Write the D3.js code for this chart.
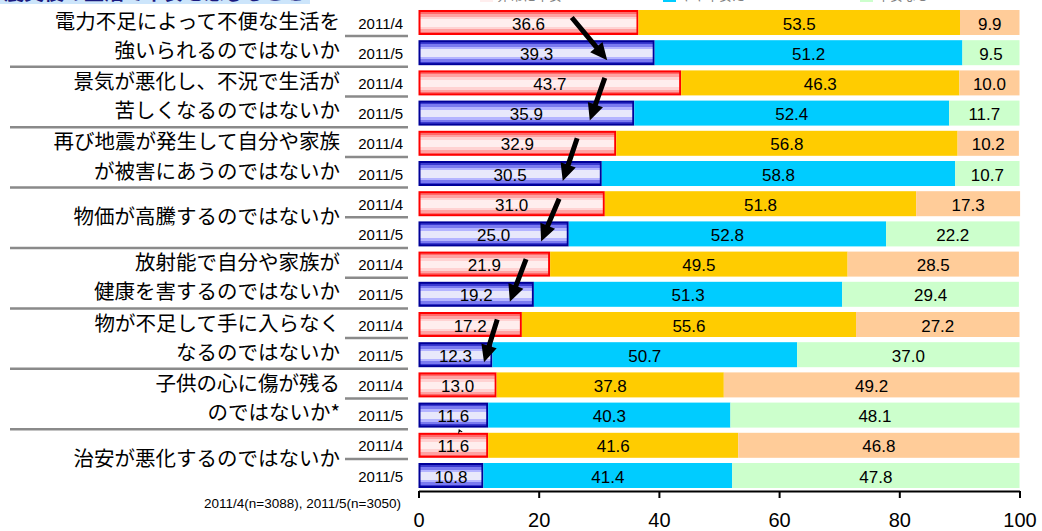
<!DOCTYPE html>
<html>
<head>
<meta charset="utf-8">
<script src="https://cdn.jsdelivr.net/npm/d3@7"></script>
<style>
  body { margin: 0; background: #fff; }
  svg { display: block; }
  .cat { font-family: "Noto Sans CJK JP", sans-serif; font-size: 20.5px; fill: #000; }
  .date, .val, .note, .axis text { font-family: "Liberation Sans", Arial, sans-serif; fill: #000; }
</style>
</head>
<body>
<div id="chart"></div>
<script>
// survey items, two text lines each (second line empty for one-line items)
const items = [
  ['電力不足によって不便な生活を', '強いられるのではないか'],
  ['景気が悪化し、不況で生活が', '苦しくなるのではないか'],
  ['再び地震が発生して自分や家族', 'が被害にあうのではないか'],
  ['物価が高騰するのではないか', ''],
  ['放射能で自分や家族が', '健康を害するのではないか'],
  ['物が不足して手に入らなく', 'なるのではないか'],
  ['子供の心に傷が残る', 'のではないか*'],
  ['治安が悪化するのではないか', '']
];
const periods = ['2011/4', '2011/5'];

// 2011/4 shares (%)
const aprA = [36.6, 43.7, 32.9, 31.0, 21.9, 17.2, 13.0, 11.6];
const aprB = [53.5, 46.3, 56.8, 51.8, 49.5, 55.6, 37.8, 41.6];
const aprC = [9.9, 10.0, 10.2, 17.3, 28.5, 27.2, 49.2, 46.8];
// 2011/5 shares (%)
const mayA = [39.3, 35.9, 30.5, 25.0, 19.2, 12.3, 11.6, 10.8];
const mayB = [51.2, 52.4, 58.8, 52.8, 51.3, 50.7, 40.3, 41.4];
const mayC = [9.5, 11.7, 10.7, 22.2, 29.4, 37.0, 48.1, 47.8];

const ticks = [0, 20, 40, 60, 80, 100];
const note = '2011/4(n=3088), 2011/5(n=3050)';

// arrow annotations (tail, head), in % units
const arrowTail = [25.5, 31.0, 26.4, 23.4, 17.9, 13.1];
const arrowHead = [31.4, 28.5, 24.0, 20.4, 15.2, 10.9];

const width = 1042, height = 531;

const svg = d3.select('#chart').append('svg')
  .attr('width', width)
  .attr('height', height);

const defs = svg.append('defs');

// striped fills for the first segment
function stripes(id, cols) {
  let g = defs.append('linearGradient').attr('id', id)
    .attr('x1', 0).attr('y1', 0).attr('x2', 0).attr('y2', 1);
  let edges = [0, 0.12, 0.24, 0.36, 0.68, 0.79, 0.9, 1];
  cols.forEach((c, i) => {
    g.append('stop').attr('offset', edges[i]).attr('stop-color', c);
    g.append('stop').attr('offset', edges[i + 1]).attr('stop-color', c);
  });
}
stripes('redfill', ['#ff6a6a', '#ffa2a2', '#ffd2d2', '#ffeeee', '#ffd2d2', '#ffa2a2', '#ff6a6a']);
stripes('bluefill', ['#3a3ad0', '#7a7af0', '#b4b4ff', '#e8e8fb', '#b4b4ff', '#7a7af0', '#3a3ad0']);

const x = d3.scaleLinear().domain([0, 100]).range([418.5, 1019.5]);
const y = d3.scaleBand().domain(d3.range(items.length * 2))
  .range([7.4, 490.6]).paddingInner(0.172).paddingOuter(0.086);
const bw = y.bandwidth();

// cut-off heading and legend at the very top
svg.append('rect').attr('x', 0).attr('y', -20).attr('width', 310).attr('height', 24)
  .attr('fill', '#cce5fb');
svg.append('text').attr('x', 4).attr('y', 0)
  .style('font-family', '"Noto Sans CJK JP", sans-serif').style('font-size', '20px')
  .style('font-weight', 'bold').attr('fill', '#1a1a80')
  .text('震災後の生活で不安を感じること');

const legendCols = ['#ffeeee', '#00ccff', '#ccffcc'];
const legendText = ['非常に不安', 'やや不安だ', '不安なし'];
const legendX = [480, 663, 860];
legendText.forEach((t, i) => {
  svg.append('rect').attr('x', legendX[i]).attr('y', -10).attr('width', 13).attr('height', 12)
    .attr('fill', legendCols[i]);
  svg.append('text').attr('x', legendX[i] + 17).attr('y', -0.5)
    .style('font-family', '"Noto Sans CJK JP", sans-serif').style('font-size', '13px')
    .attr('fill', '#808080').text(t);
});

// rows
const rows = [];
items.forEach((it, g) => {
  rows.push({ g: g, p: 0, vals: [aprA[g], aprB[g], aprC[g]] });
  rows.push({ g: g, p: 1, vals: [mayA[g], mayB[g], mayC[g]] });
});

const fills = [
  ['url(#redfill)', '#ffcc00', '#ffcc99'],
  ['url(#bluefill)', '#00ccff', '#ccffcc']
];
const strokes = ['#ff0000', '#000099'];

rows.forEach((r, i) => {
  let top = y(i);
  let acc = 0;
  r.vals.forEach((v, k) => {
    let x0 = x(acc), x1 = x(acc + v);
    if (k === 0) {
      svg.append('rect')
        .attr('x', x0 + 1).attr('y', top + 1)
        .attr('width', x1 - x0 - 2).attr('height', bw - 2)
        .attr('fill', fills[r.p][k])
        .attr('stroke', strokes[r.p]).attr('stroke-width', 2);
    } else {
      svg.append('rect')
        .attr('x', x0).attr('y', top)
        .attr('width', x1 - x0).attr('height', bw)
        .attr('fill', fills[r.p][k]);
    }
    svg.append('text').attr('class', 'val')
      .attr('x', (x0 + x1) / 2).attr('y', top + bw / 2 + 7)
      .attr('text-anchor', 'middle').style('font-size', '17px')
      .text(v.toFixed(1));
    acc += v;
  });

  svg.append('text').attr('class', 'date')
    .attr('x', 403).attr('y', top + bw / 2 + 6)
    .attr('text-anchor', 'end').style('font-size', '15px')
    .text(periods[r.p]);
});

// separators and item labels
const sep = svg.append('g').attr('stroke', '#8a8a8a').attr('stroke-width', 2.5);
items.forEach((it, g) => {
  let topA = y(2 * g), topB = y(2 * g + 1);
  let mid = (topA + bw + topB) / 2 - 1.5;
  sep.append('line').attr('x1', 345).attr('x2', 408).attr('y1', mid).attr('y2', mid);
  if (g < items.length - 1) {
    let next = y(2 * g + 2);
    let gm = (topB + bw + next) / 2 - 1;
    sep.append('line').attr('x1', 10).attr('x2', 408).attr('y1', gm).attr('y2', gm);
  }
  if (it[1]) {
    svg.append('text').attr('class', 'cat').attr('x', 340).attr('y', topA + bw / 2 + 6)
      .attr('text-anchor', 'end').text(it[0]);
    svg.append('text').attr('class', 'cat').attr('x', 340).attr('y', topB + bw / 2 + 5)
      .attr('text-anchor', 'end').text(it[1]);
  } else {
    svg.append('text').attr('class', 'cat').attr('x', 340).attr('y', mid + 7)
      .attr('text-anchor', 'end').text(it[0]);
  }
});

// arrows from 2011/4 to 2011/5
function arrow(x1, y1, x2, y2, shaft, hw, hl) {
  let dx = x2 - x1, dy = y2 - y1, len = Math.hypot(dx, dy);
  let ux = dx / len, uy = dy / len, nx = -uy, ny = ux;
  let bx = x2 - ux * hl, by = y2 - uy * hl;
  let pts = [
    [x1 + nx * shaft / 2, y1 + ny * shaft / 2],
    [bx + nx * shaft / 2, by + ny * shaft / 2],
    [bx + nx * hw / 2, by + ny * hw / 2],
    [x2, y2],
    [bx - nx * hw / 2, by - ny * hw / 2],
    [bx - nx * shaft / 2, by - ny * shaft / 2],
    [x1 - nx * shaft / 2, y1 - ny * shaft / 2]
  ];
  svg.append('path').attr('d', 'M' + pts.map(p => p.join(',')).join('L') + 'Z')
    .attr('fill', '#000');
}
arrowTail.forEach((t, g) => {
  arrow(x(t), y(2 * g) + bw * 0.3, x(arrowHead[g]), y(2 * g + 1) + bw * 0.8, 5, 16, 17);
});
// tiny arrow tip peeking out between the last groups
arrow(x(6.9), y(14) - 1, x(6.7), y(13) + bw + 1.5, 2, 5, 4);

// axis
const axis = svg.append('g').attr('class', 'axis')
  .attr('transform', 'translate(0,' + 491 + ')')
  .call(d3.axisBottom(x).tickValues(ticks).tickSize(7).tickSizeOuter(0).tickPadding(15));
axis.select('.domain').attr('stroke', '#000').attr('stroke-width', 2);
axis.selectAll('.tick line').attr('stroke', '#000').attr('stroke-width', 2);
axis.selectAll('.tick text').style('font-size', '20px');

svg.append('text').attr('class', 'note')
  .attr('x', 401).attr('y', 508).attr('text-anchor', 'end')
  .style('font-size', '13.5px').text(note);
</script>
</body>
</html>
